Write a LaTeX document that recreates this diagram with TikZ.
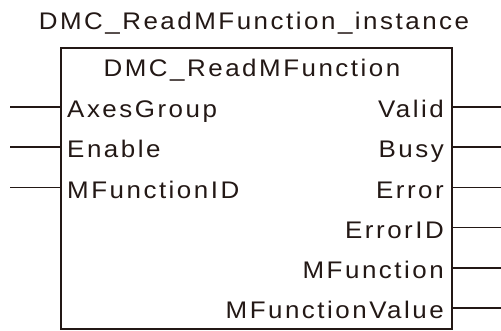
\documentclass[tikz,border=0pt]{standalone}
\usepackage{fontspec}
\setmainfont[LetterSpace=10.5, FakeStretch=1.08]{Liberation Sans}
\usetikzlibrary{positioning}
\definecolor{fbline}{RGB}{35,24,21}
\tikzset{
	fbbox/.style={draw=fbline, line width=1.8pt, minimum width=391pt, minimum height=281pt, inner sep=0pt},
	pinline/.style={draw=fbline, line width=1.5pt},
	pinlabel/.style={text=fbline, inner sep=0pt, font=\fontsize{24}{28}\selectfont},
}
\begin{document}
\begin{tikzpicture}[x=1pt,y=1pt]
	\useasboundingbox (0,0) rectangle (501,331);

	% function block
	\node [fbbox, anchor=north west] (fb) at (60,284) {};
	\node [pinlabel, anchor=base] (inst) at (254,301.7) {DMC\_ReadMFunction\_instance};
	\node [pinlabel, anchor=base] (fbname) at (252,254.3) {DMC\_ReadMFunction};

	% inputs
	\foreach \name [count=\i, evaluate={\y=264.2-40.2*\i;}] in {AxesGroup,Enable,MFunctionID}{
			\coordinate (in-\i) at (60,\y);
			\coordinate (in-\i-end) at (10,\y);
			\draw [pinline] (in-\i-end) -- (in-\i);
			\node [pinlabel, anchor=base west] (in-\i-lbl) at ([shift={(7,-10.7)}]in-\i) {\name};
		}

	% outputs
	\foreach \name [count=\i, evaluate={\y=264.2-40.2*\i;}] in {Valid,Busy,Error,ErrorID,MFunction,MFunctionValue}{
			\coordinate (out-\i) at (451,\y);
			\coordinate (out-\i-end) at (501,\y);
			\draw [pinline] (out-\i) -- (out-\i-end);
			\node [pinlabel, anchor=base east] (out-\i-lbl) at ([shift={(-7,-10.7)}]out-\i) {\name};
		}
\end{tikzpicture}
\end{document}
